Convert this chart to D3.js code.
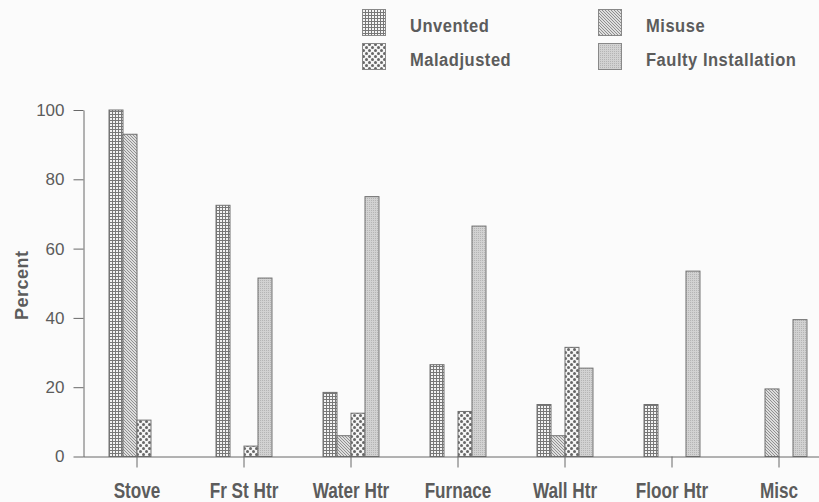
<!DOCTYPE html>
<html>
<head>
<meta charset="utf-8">
<script src="https://cdn.jsdelivr.net/npm/d3@7"></script>
<style>
  body { margin: 0; background: #fbfbfb; }
  svg { display: block; }
</style>
</head>
<body>
<div id="chart"></div>
<script>
const categories = ["Stove", "Fr St Htr", "Water Htr", "Furnace", "Wall Htr", "Floor Htr", "Misc"];
const seriesNames = ["Unvented", "Misuse", "Maladjusted", "Faulty Installation"];
const unvented   = [100, 72.5, 18.5, 26.5, 15, 15, 0];
const misuse     = [93, 0, 6, 0, 6, 0, 19.5];
const maladjusted = [10.5, 3, 12.5, 13, 31.5, 0, 0];
const faulty     = [0, 51.5, 75, 66.5, 25.5, 53.5, 39.5];
const yTicks = [0, 20, 40, 60, 80, 100];

const values = [unvented, misuse, maladjusted, faulty];
const patternIds = ["pUnvented", "pMisuse", "pMaladjusted", "pFaulty"];

const W = 819, H = 502;
const plotLeft = 83.5, plotBottom = 456.5, plotTop = 110;
const ink = "#686868", textCol = "#5c5c5c";
const font = "'Liberation Sans', Arial, sans-serif";

const svg = d3.select("#chart").append("svg")
  .attr("width", W)
  .attr("height", H);

svg.append("rect").attr("width", W).attr("height", H).attr("fill", "#fbfbfb");

// patterns
const defs = svg.append("defs");

const pU = defs.append("pattern").attr("id", "pUnvented")
  .attr("patternUnits", "userSpaceOnUse").attr("width", 3).attr("height", 3);
pU.append("rect").attr("width", 3).attr("height", 3).attr("fill", "#f4f4f4");
pU.append("path").attr("d", "M0,0.5H3M0.5,0V3").attr("stroke", "#777").attr("stroke-width", 1);

const pM = defs.append("pattern").attr("id", "pMisuse")
  .attr("patternUnits", "userSpaceOnUse").attr("width", 3).attr("height", 3);
pM.append("rect").attr("width", 3).attr("height", 3).attr("fill", "#dedede");
pM.append("path").attr("d", "M-1,-1L4,4M-1,2L1,4M2,-1L4,1").attr("stroke", "#858585").attr("stroke-width", 0.9);

const pD = defs.append("pattern").attr("id", "pMaladjusted")
  .attr("patternUnits", "userSpaceOnUse").attr("width", 6).attr("height", 6);
pD.append("rect").attr("width", 6).attr("height", 6).attr("fill", "#f6f6f6");
pD.append("circle").attr("cx", 1.5).attr("cy", 1.5).attr("r", 1.5).attr("fill", "#666");
pD.append("circle").attr("cx", 4.5).attr("cy", 4.5).attr("r", 1.5).attr("fill", "#666");

const pF = defs.append("pattern").attr("id", "pFaulty")
  .attr("patternUnits", "userSpaceOnUse").attr("width", 2).attr("height", 2);
pF.append("rect").attr("width", 2).attr("height", 2).attr("fill", "#d2d2d2");
pF.append("rect").attr("width", 1).attr("height", 1).attr("fill", "#b4b4b4");

// scales
const x = d3.scaleBand()
  .domain(categories)
  .range([plotLeft, 832.5])
  .paddingInner(0.477)
  .paddingOuter(0.2385);

const xs = d3.scaleBand()
  .domain(seriesNames)
  .range([0, x.bandwidth()]);

const y = d3.scaleLinear()
  .domain([0, 100])
  .range([plotBottom, plotTop]);

// bars
const groups = svg.append("g").selectAll("g")
  .data(categories)
  .join("g")
  .attr("transform", d => `translate(${x(d)},0)`);

groups.selectAll("rect")
  .data((c, i) => seriesNames.map((s, k) => ({ s, k, v: values[k][i] })).filter(d => d.v > 0))
  .join("rect")
  .attr("x", d => xs(d.s))
  .attr("y", d => y(d.v))
  .attr("width", xs.bandwidth())
  .attr("height", d => plotBottom - y(d.v))
  .attr("fill", d => `url(#${patternIds[d.k]})`)
  .attr("stroke", "#707070")
  .attr("stroke-width", 1);

// x axis
const xAxis = svg.append("g")
  .attr("transform", `translate(0,${plotBottom})`)
  .call(d3.axisBottom(x).tickSizeInner(11).tickSizeOuter(0).tickPadding(15));
xAxis.select(".domain").attr("stroke", ink).attr("d", `M${plotLeft},0.5H${W}`);
xAxis.selectAll(".tick line").attr("stroke", ink);
xAxis.selectAll("text")
  .attr("fill", textCol)
  .attr("transform", "scale(0.78,1)")
  .style("font-family", font)
  .style("font-size", "22px")
  .style("font-weight", "bold");

// y axis
const yAxis = svg.append("g")
  .attr("transform", `translate(${plotLeft},0)`)
  .call(d3.axisLeft(y).tickValues(yTicks).tickSizeInner(10).tickSizeOuter(0).tickPadding(9));
yAxis.select(".domain").attr("stroke", ink);
yAxis.selectAll(".tick line").attr("stroke", ink);
yAxis.selectAll("text")
  .attr("fill", textCol)
  .style("font-family", font)
  .style("font-size", "17px");

svg.append("text")
  .attr("transform", `translate(28,${(plotTop + plotBottom) / 2 + 2}) rotate(-90)`)
  .attr("text-anchor", "middle")
  .attr("fill", textCol)
  .style("font-family", font)
  .style("font-size", "18px")
  .style("font-weight", "bold")
  .style("letter-spacing", "0.5px")
  .text("Percent");

// legend
const legendPos = [[362, 9], [598, 9], [362, 43], [598, 43]];
const legend = svg.append("g").selectAll("g")
  .data(seriesNames)
  .join("g")
  .attr("transform", (d, i) => `translate(${legendPos[i][0]},${legendPos[i][1]})`);
legend.append("rect")
  .attr("x", 0.5).attr("y", 0.5)
  .attr("width", 23).attr("height", 26)
  .attr("fill", (d, i) => `url(#${patternIds[i]})`)
  .attr("stroke", "#888");
legend.append("text")
  .attr("transform", "translate(48,23) scale(0.87,1)")
  .attr("fill", textCol)
  .style("font-family", font)
  .style("font-size", "19px")
  .style("font-weight", "bold")
  .style("letter-spacing", "0.6px")
  .text(d => d);
</script>
</body>
</html>
